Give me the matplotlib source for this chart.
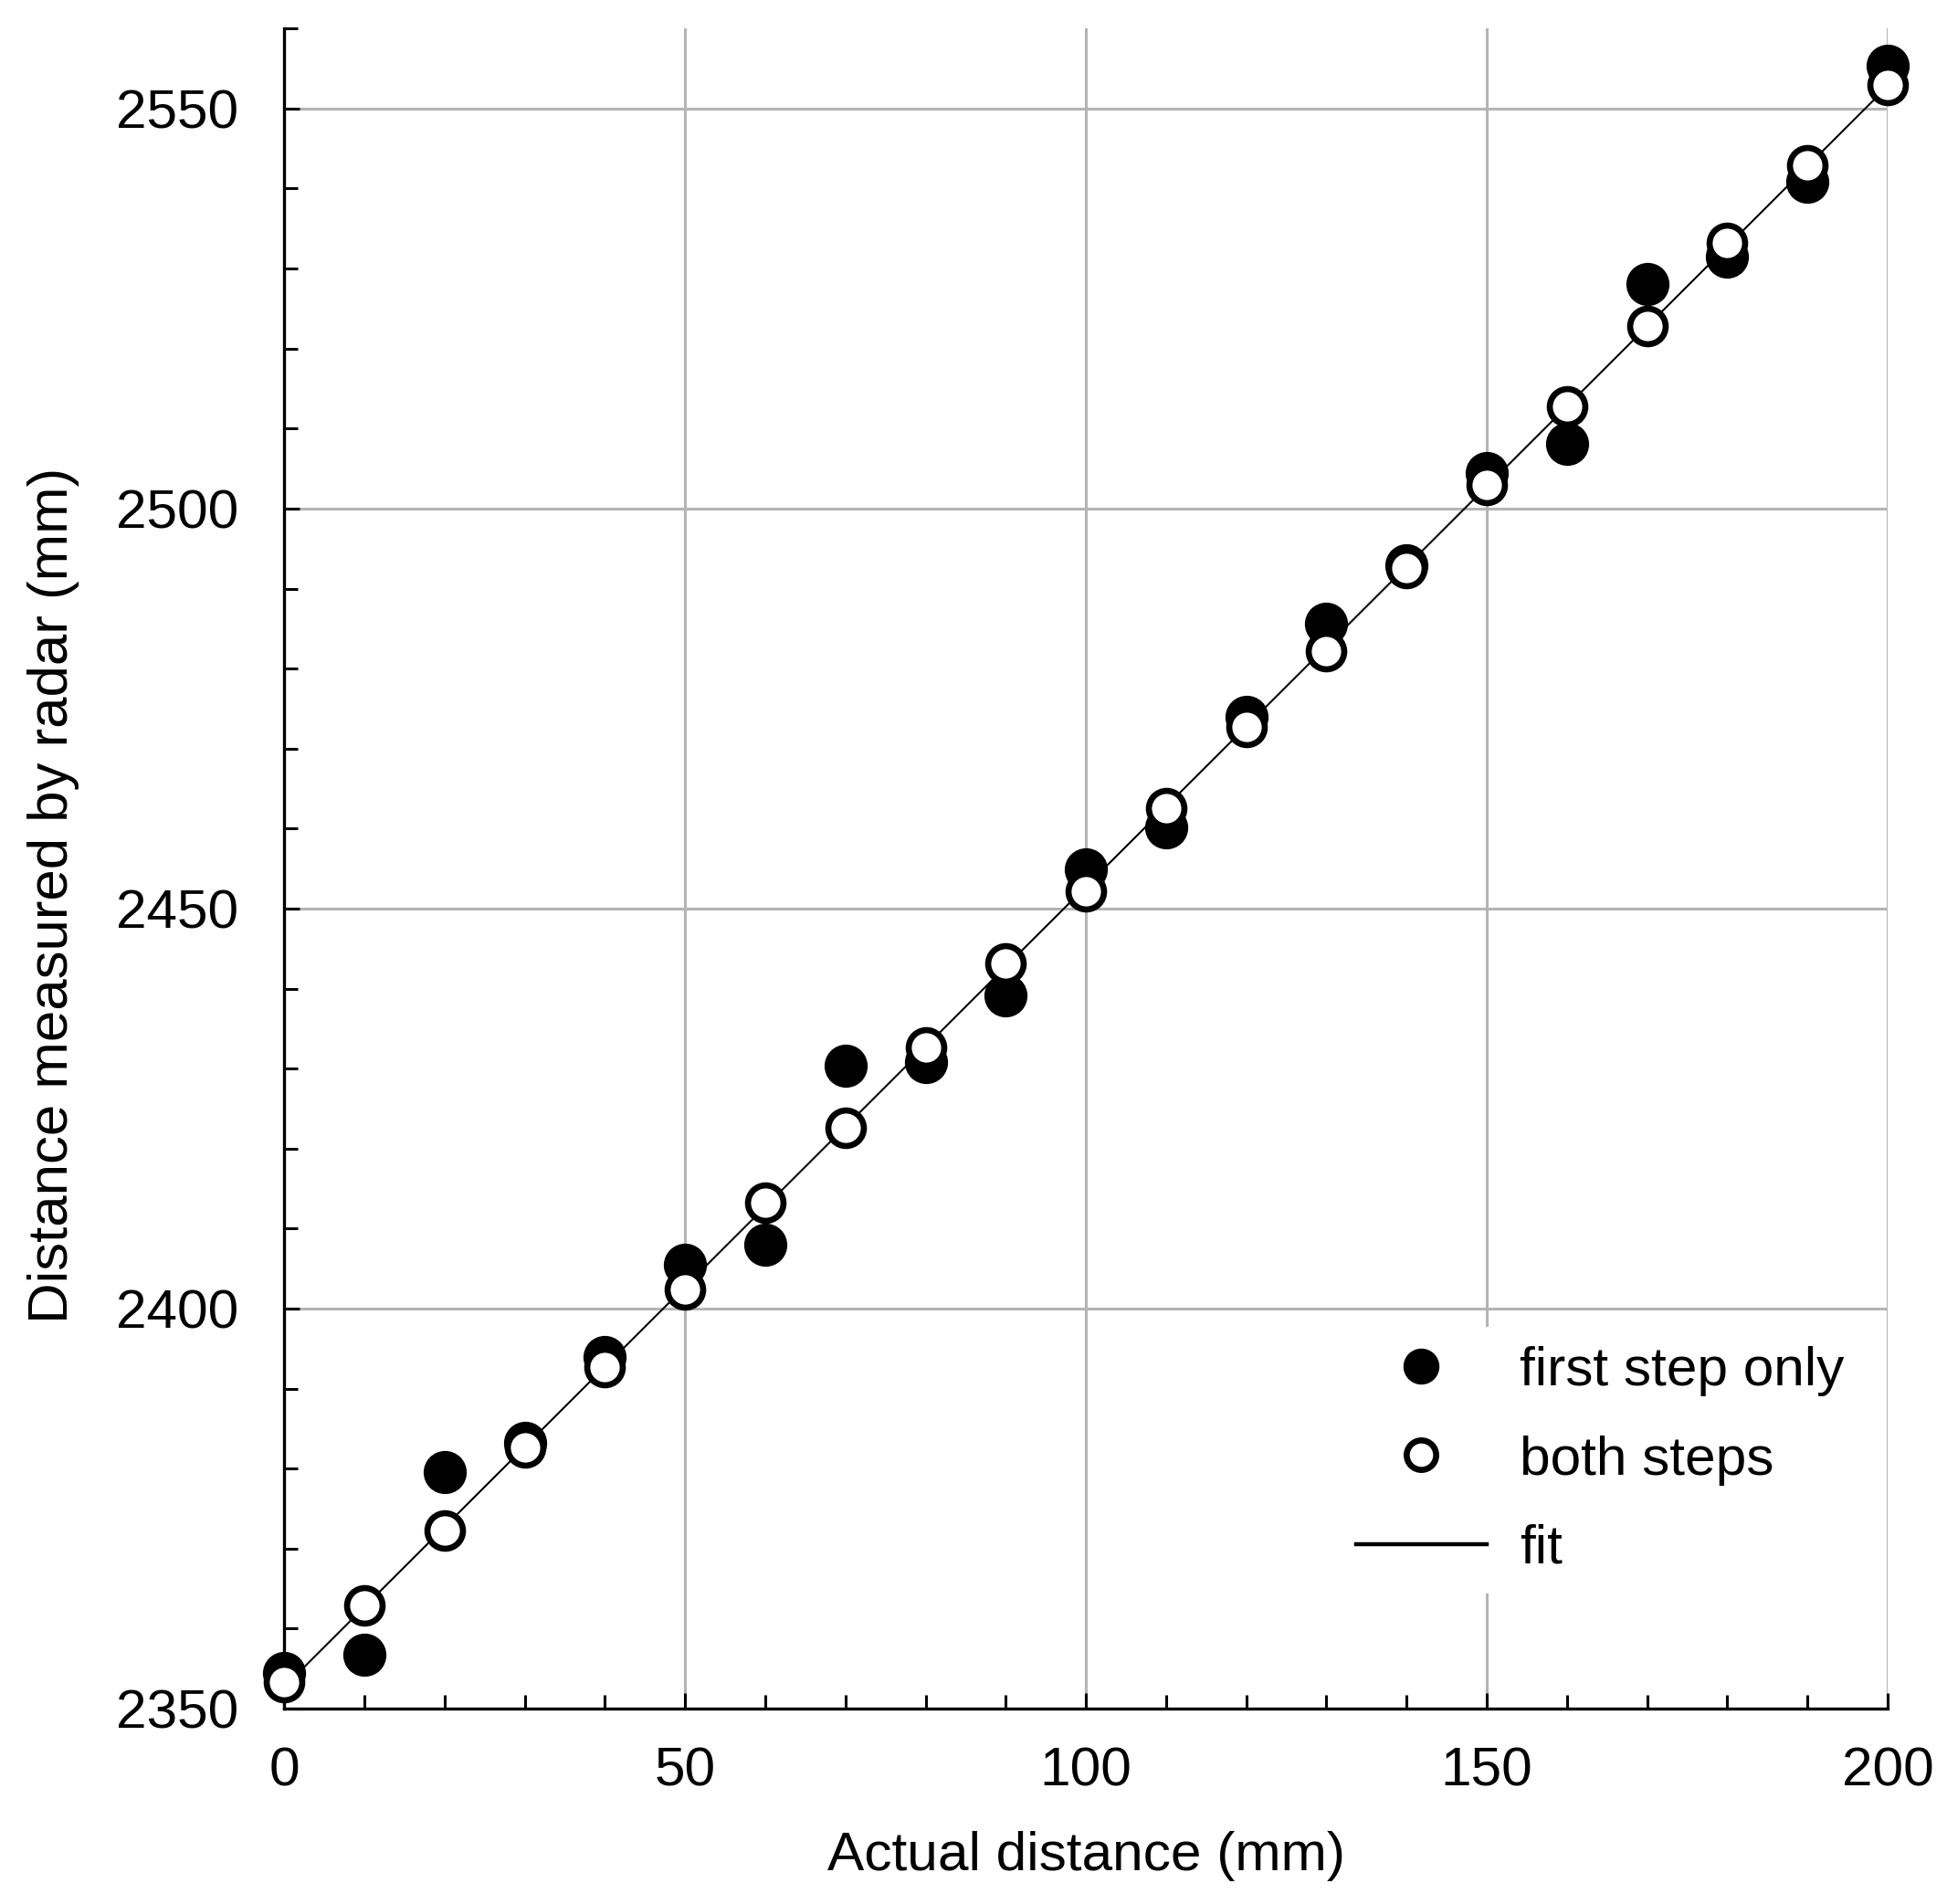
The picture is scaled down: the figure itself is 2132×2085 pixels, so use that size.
import numpy as np
from matplotlib import pyplot as plt
from matplotlib.ticker import MultipleLocator

plt.rcParams['font.family'] = ['Liberation Sans', 'DejaVu Sans']

# actual distance (mm)
actual = [0, 10, 20, 30, 40, 50, 60, 70, 80, 90, 100,
          110, 120, 130, 140, 150, 160, 170, 180, 190, 200]

# radar readings, first step only
first_step = [2354.5, 2356.7, 2379.6, 2383.2, 2393.9, 2405.5, 2408.0, 2430.4,
              2430.8, 2439.2, 2454.9, 2460.2, 2474.0, 2485.6, 2492.9, 2504.5,
              2508.1, 2528.1, 2531.5, 2540.8, 2555.4]

# radar readings, both steps
both_steps = [2353.3, 2362.9, 2372.3, 2382.7, 2392.7, 2402.4, 2413.3, 2422.6,
              2432.7, 2443.1, 2452.2, 2462.6, 2472.7, 2482.2, 2492.6, 2503.0,
              2512.8, 2522.8, 2533.2, 2542.9, 2552.9]

x = np.array(actual)
slope, icpt = np.polyfit(x, np.array(both_steps), 1)
fit_x = np.array([x[0], x[-1]])
fit_y = slope * fit_x + icpt

fs = 43.5

fig = plt.figure(figsize=(21.32, 20.85), dpi=100)
ax = fig.add_axes([0.146, 0.1026, 0.8235, 0.8824])

ax.plot(x, first_step, 'o', ms=33, color='black', mec='black',
        label='first step only', zorder=3, clip_on=False)
ax.plot(x, both_steps, 'o', ms=28, mfc='white', mec='black', mew=4.8,
        label='both steps', zorder=5, clip_on=False)
ax.plot(fit_x, fit_y, '-', color='black', lw=1.5, label='fit', zorder=4)

ax.set_xlim(0, 200)
ax.set_ylim(2350, 2560)

ax.xaxis.set_major_locator(MultipleLocator(50))
ax.xaxis.set_minor_locator(MultipleLocator(10))
ax.yaxis.set_major_locator(MultipleLocator(50))
ax.yaxis.set_minor_locator(MultipleLocator(10))

ax.grid(True, which='major', color='#b4b4b4', lw=2.2)
ax.set_axisbelow(True)

for s in ['top', 'right']:
    ax.spines[s].set_visible(False)
for s in ['left', 'bottom']:
    ax.spines[s].set_linewidth(2.4)

ax.tick_params(which='both', direction='in', width=2.2, labelsize=fs)
ax.tick_params(which='major', length=12)
ax.tick_params(which='minor', length=11)
ax.tick_params(axis='x', which='major', pad=30)
ax.tick_params(axis='y', which='major', pad=36)

ax.set_xlabel('Actual distance (mm)', fontsize=fs, labelpad=27)
ax.set_ylabel('Distance measured by radar (mm)', fontsize=44.5)
ax.yaxis.set_label_coords(-0.128, 0.484)

leg = ax.legend(loc='lower right', bbox_to_anchor=(0.985, 0.0685), fontsize=fs,
                markerscale=0.83, handlelength=2.37, handletextpad=0.6,
                labelspacing=0.7, borderaxespad=0, borderpad=0.35,
                frameon=True, fancybox=False)
leg.get_frame().set_facecolor('white')
leg.get_frame().set_edgecolor('none')
leg.get_frame().set_alpha(1)
leg.get_lines()[2].set_linewidth(3.2)
leg.set_zorder(6)

fig.savefig('out.png', dpi=100)
